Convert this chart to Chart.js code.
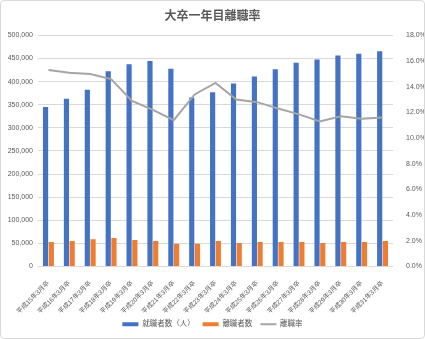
<!DOCTYPE html>
<html lang="ja">
<head>
<meta charset="utf-8">
<title>大卒一年目離職率</title>
<script src="https://cdn.jsdelivr.net/npm/chart.js@4/dist/chart.umd.min.js"></script>
<style>
  html, body { margin: 0; padding: 0; background: #fff; }
  .frame {
    width: 425px;
    height: 339px;
    box-sizing: border-box;
    border: 1px solid #d9d9d9;
    border-radius: 4px;
    overflow: hidden;
  }
  canvas { display: block; }
</style>
</head>
<body>
<div class="frame">
  <canvas id="chart" width="423" height="337"></canvas>
</div>
<script>
// 卒業年度
const labels = [
  '平成15年3月卒', '平成16年3月卒', '平成17年3月卒', '平成18年3月卒',
  '平成19年3月卒', '平成20年3月卒', '平成21年3月卒', '平成22年3月卒',
  '平成23年3月卒', '平成24年3月卒', '平成25年3月卒', '平成26年3月卒',
  '平成27年3月卒', '平成28年3月卒', '平成29年3月卒', '平成30年3月卒',
  '平成31年3月卒'
];

// 就職者数（人）
const employed = [
  345000, 363000, 382500, 422500, 437500, 444500, 428000, 365500,
  377000, 396000, 411000, 426500, 441000, 448000, 456500, 460500, 465500
];

// 離職者数
const leavers = [
  52800, 55000, 58700, 61500, 57200, 55000, 49300, 49300,
  55000, 50700, 52800, 52800, 52800, 50700, 52800, 52800, 55000
];

// 離職率（%）
const leaveRate = [
  15.3, 15.1, 15.0, 14.6, 12.9, 12.2, 11.4, 13.4,
  14.3, 13.0, 12.8, 12.3, 11.85, 11.3, 11.7, 11.5, 11.6
];

const FONT = "'Liberation Sans', 'Noto Sans CJK JP', sans-serif";
const TEXT = '#595959';
const GRID = '#d9d9d9';

const legendStyle = {
  bar: 'rect',
  line: 'line'
};

new Chart(document.getElementById('chart'), {
  data: {
    labels,
    datasets: [
      {
        type: 'bar',
        label: '就職者数（人）',
        data: employed,
        backgroundColor: '#4472c4',
        yAxisID: 'y',
        order: 1,
        barPercentage: 0.9,
        categoryPercentage: 0.55
      },
      {
        type: 'bar',
        label: '離職者数',
        data: leavers,
        backgroundColor: '#ed7d31',
        yAxisID: 'y',
        order: 1,
        barPercentage: 0.9,
        categoryPercentage: 0.55
      },
      {
        type: 'line',
        label: '離職率',
        data: leaveRate,
        borderColor: '#a5a5a5',
        backgroundColor: '#a5a5a5',
        borderWidth: 2,
        pointRadius: 0,
        tension: 0,
        yAxisID: 'y1',
        order: 0
      }
    ]
  },
  options: {
    responsive: false,
    animation: false,
    layout: { padding: { left: 0, right: 0, top: 0, bottom: 0 } },
    plugins: {
      title: {
        display: true,
        text: '大卒一年目離職率',
        color: TEXT,
        font: { family: FONT, size: 12, weight: 'bold' },
        padding: { top: 8, bottom: 12 }
      },
      legend: {
        position: 'bottom',
        labels: {
          color: TEXT,
          font: { family: FONT, size: 7.5 },
          usePointStyle: true,
          pointStyleWidth: 16,
          boxHeight: 4,
          padding: 8,
          sort: (a, b) => a.datasetIndex - b.datasetIndex,
          generateLabels(chart) {
            const items = Chart.defaults.plugins.legend.labels.generateLabels(chart);
            items.forEach(item => {
              const ds = chart.data.datasets[item.datasetIndex];
              item.pointStyle = legendStyle[ds.type];
              if (ds.type === 'bar') item.lineWidth = 0;
            });
            return items;
          }
        }
      },
      tooltip: { enabled: false }
    },
    scales: {
      x: {
        grid: { display: false },
        border: { display: false },
        ticks: {
          color: TEXT,
          font: { family: FONT, size: 6.5 },
          maxRotation: 45,
          minRotation: 45,
          autoSkip: false,
          padding: 5
        },
        afterFit(scale) { scale.height = 46; }
      },
      y: {
        position: 'left',
        min: 0,
        max: 500000,
        grid: { color: GRID, drawTicks: false },
        border: { display: false },
        ticks: {
          stepSize: 50000,
          color: TEXT,
          font: { family: FONT, size: 7 },
          padding: 5,
          callback: v => v.toLocaleString('en-US')
        },
        afterFit(scale) { scale.width = 37; }
      },
      y1: {
        position: 'right',
        min: 0,
        max: 18,
        grid: { display: false },
        border: { display: false },
        ticks: {
          stepSize: 2,
          color: TEXT,
          font: { family: FONT, size: 7 },
          padding: 5,
          callback: v => v.toFixed(1) + '%'
        },
        afterFit(scale) { scale.width = 31; }
      }
    }
  }
});
</script>
</body>
</html>
